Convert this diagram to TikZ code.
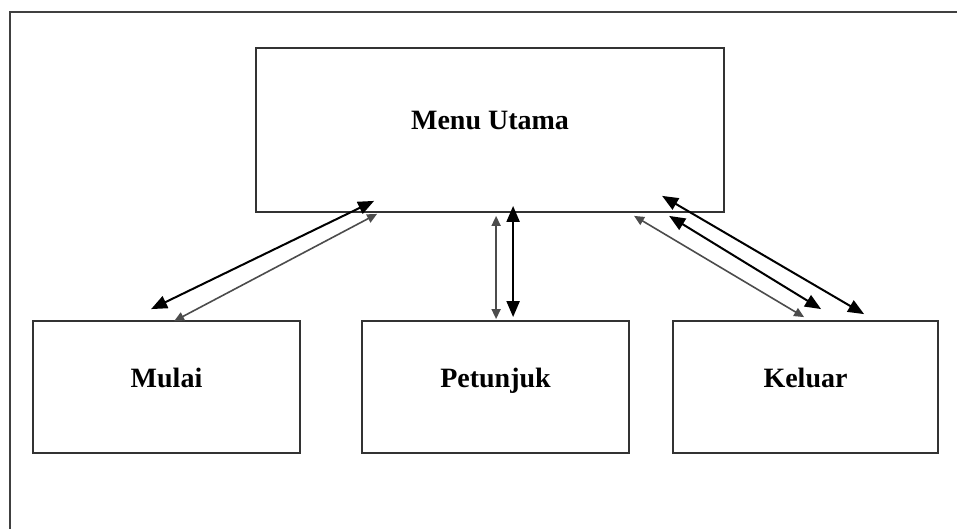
\documentclass[tikz,border=0pt]{standalone}
\usepackage{fontspec}
\setmainfont{Liberation Serif}
\usetikzlibrary{arrows.meta, positioning}

\tikzset{
  menubox/.style={draw=black!80, line width=1.8pt, rectangle, fill=white,
    font=\fontsize{28}{34}\selectfont\bfseries, text height=19pt, text depth=19pt},
  flow/.style={{Triangle[length=16pt,width=13pt]}-{Triangle[length=16pt,width=13pt]}, line width=2pt, black},
  flowthin/.style={{Triangle[length=10pt,width=9pt]}-{Triangle[length=10pt,width=9pt]}, line width=1.6pt, black!70}
}

\begin{document}
\begin{tikzpicture}[x=1pt, y=-1pt]
      \useasboundingbox (0,0) rectangle (957,529);

      % outer frame
      \draw[line width=2pt, black!75] (10,529) -- (10,12) -- (957,12);

      % main menu and the three screens below it
      \node[menubox, minimum width=468pt, minimum height=164pt] (menu) at (490,130) {Menu Utama};
      \node[menubox, minimum width=267pt, minimum height=132pt] (mulai) at (166.5,387) {Mulai};
      \node[menubox, minimum width=267pt, minimum height=132pt] (petunjuk) at (495.5,387) {Petunjuk};
      \node[menubox, minimum width=265pt, minimum height=132pt] (keluar) at (805.5,387) {Keluar};

      % Mulai links
      \draw[flow] ([xshift=119pt, yshift=12pt]menu.south west) -- ([xshift=119pt, yshift=11pt]mulai.north west);
      \draw[flowthin] ([xshift=122pt, yshift=-1pt]menu.south west) -- ([xshift=142pt, yshift=-1pt]mulai.north west);

      % Petunjuk links
      \draw[flowthin] ([xshift=241pt, yshift=-3pt]menu.south west) -- ([xshift=135pt, yshift=1pt]petunjuk.north west);
      \draw[flow] ([xshift=258pt, yshift=7pt]menu.south west) -- ([xshift=152pt, yshift=3pt]petunjuk.north west);

      % Keluar links
      \draw[flowthin] ([xshift=379pt, yshift=-3pt]menu.south west) -- ([xshift=132pt, yshift=3pt]keluar.north west);
      \draw[flow] ([xshift=414pt, yshift=-3pt]menu.south west) -- ([xshift=149pt, yshift=11pt]keluar.north west);
      \draw[flow] ([xshift=407pt, yshift=17pt]menu.south west) -- ([xshift=192pt, yshift=6pt]keluar.north west);

    \end{tikzpicture}
\end{document}
